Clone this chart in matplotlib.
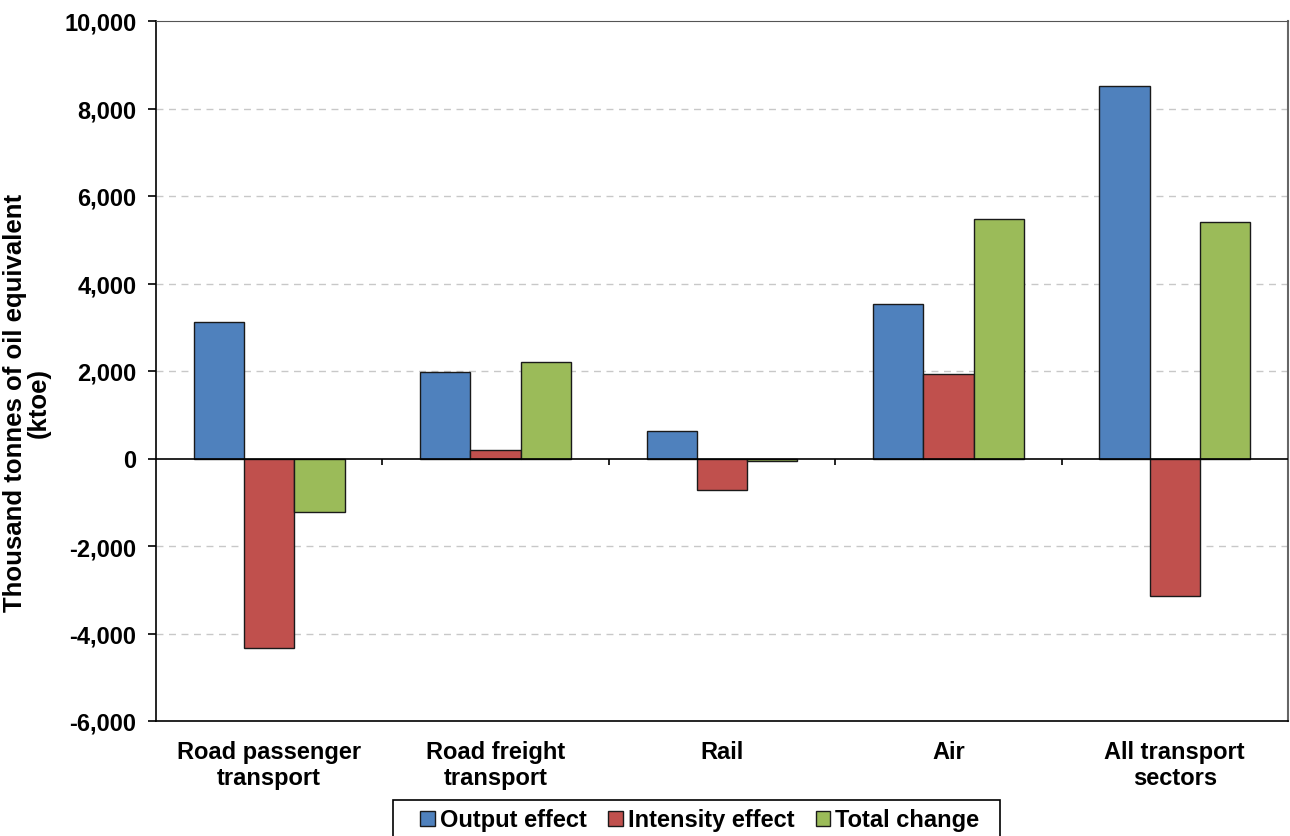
import matplotlib
matplotlib.use("Agg")
import matplotlib.pyplot as plt
from matplotlib.patches import Rectangle
import numpy as np

categories = ["Road passenger\ntransport", "Road freight\ntransport", "Rail", "Air", "All transport\nsectors"]
output_effect = [3120, 1980, 636, 3540, 8520]
intensity_effect = [-4340, 194, -720, 1930, -3150]
total_change = [-1215, 2205, -64, 5480, 5400]
series_names = ["Output effect", "Intensity effect", "Total change"]
colors = ["#4F81BD", "#C0504D", "#9BBB59"]
yticks = list(range(-6000, 10001, 2000))

plt.rcParams['font.family'] = ['Liberation Sans', 'DejaVu Sans']
plt.rcParams['font.weight'] = 'bold'

fig = plt.figure(figsize=(12.9, 8.37), dpi=100)
ax = fig.add_axes([156/1290, 1-722/837, 1132/1290, 700/837])

x = np.arange(len(categories))
w = 0.222
for i, (vals, name, c) in enumerate(zip([output_effect, intensity_effect, total_change], series_names, colors)):
    ax.bar(x + (i-1)*w, vals, width=w, color=c, edgecolor="#1a1a1a", linewidth=1.0, label=name, zorder=3)

ax.set_xlim(-0.5, len(categories)-0.5)
ax.set_ylim(-6000, 10000)
ax.set_yticks(yticks)
ax.set_yticklabels([f"{v:,}" for v in yticks], fontsize=17, fontweight='bold')
ax.set_xticks(x)
ax.set_xticklabels(categories, fontsize=17, fontweight='bold', linespacing=1.15)
ax.tick_params(axis='x', length=0, pad=14)
ax.tick_params(axis='y', length=6, width=1.2, direction='out', pad=8)

for v in yticks:
    if v not in (0, -6000, 10000):
        ax.axhline(v, color="#c8c8c8", linestyle=(0, (5, 4)), linewidth=1.0, zorder=1)

ax.axhline(0, color="black", linewidth=1.2, zorder=4)
ax.vlines(x[:-1] + 0.5, -140, 0, color="black", linewidth=1.2, zorder=4)

ax.spines['left'].set_linewidth(1.2)
ax.spines['bottom'].set_linewidth(1.2)
ax.spines['top'].set_color("#555555")
ax.spines['right'].set_color("#666666")
ax.spines['right'].set_linewidth(1.5)

fig.text(27/1290, 1-403/837, "Thousand tonnes of oil equivalent\n(ktoe)", rotation=90,
         ha='center', va='center', multialignment='center', fontsize=18.5,
         fontweight='bold', linespacing=1.0)

# legend frame (bottom edge runs off the image, as in the reference)
fig.patches.append(Rectangle((393/1290, -0.02), 607/1290, (837-801)/837 + 0.02,
                             transform=fig.transFigure, facecolor='white',
                             edgecolor='black', linewidth=1.2, zorder=0))
leg = fig.legend(loc='center', bbox_to_anchor=(700/1290, 1-821/837), ncol=3,
                 frameon=False, handlelength=0.6, handleheight=0.6, handletextpad=0.22,
                 columnspacing=0.92, borderpad=0.0,
                 prop={'weight': 'bold', 'size': 17})

fig.savefig("out.png", dpi=100)
